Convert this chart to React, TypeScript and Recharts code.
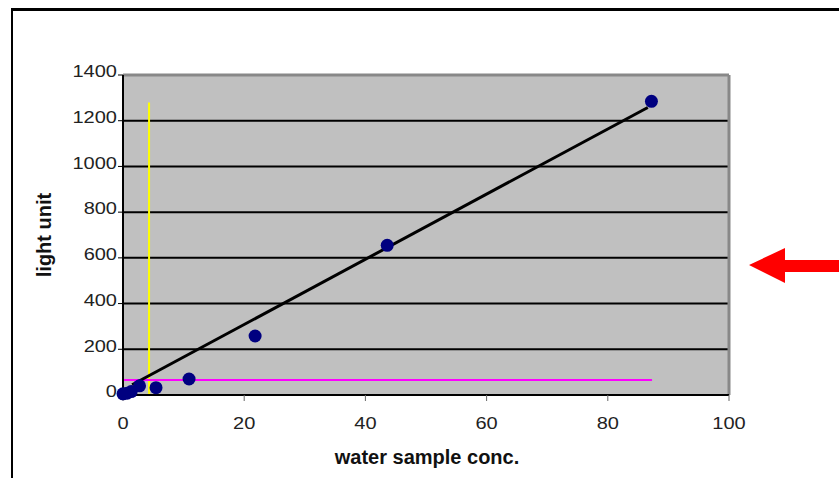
import { ComposedChart, Scatter, XAxis, YAxis, CartesianGrid, ReferenceLine } from 'recharts'

// dilution series: concentration vs measured light units
const concentrations = [0, 0.68, 1.36, 2.73, 5.45, 10.9, 21.8, 43.6, 87.2]
const lightUnits = [5, 8, 15, 40, 32, 70, 258, 655, 1285]

const xTicks = [0, 20, 40, 60, 80, 100]
const yTicks = [0, 200, 400, 600, 800, 1000, 1200, 1400]
const gridValues = [200, 400, 600, 800, 1000, 1200]

// fitted line, detection cutoff (yellow) and blank level (magenta)
const trendX = [1.5, 86.6]
const trendY = [45, 1258]
const cutoffX = [4.3, 4.3]
const cutoffY = [0, 1280]
const blankX = [0, 87.3]
const blankY = [66, 66]

const points = concentrations.map((x, i) => ({ x, y: lightUnits[i] }))
const seg = (xs: number[], ys: number[]) => xs.map((x, i) => ({ x, y: ys[i] }))

const font = '"Liberation Sans", Arial, sans-serif'

// the scanned original has wide, slightly stretched digits
function XTick({ x, y, payload }: any) {
  return (
    <text transform={`translate(${x},${y + 7}) scale(1.25,1)`} textAnchor="middle" dominantBaseline="central"
      fontFamily={font} fontSize={16} fill="#222">
      {payload.value}
    </text>
  )
}

function YTick({ x, y, payload }: any) {
  return (
    <text transform={`translate(${x},${y - 3}) scale(1.25,1)`} textAnchor="end" dominantBaseline="central"
      fontFamily={font} fontSize={16} fill="#222">
      {payload.value}
    </text>
  )
}

function XTitle({ viewBox }: any) {
  return (
    <text x={viewBox.x + viewBox.width / 2 + 1} y={viewBox.y + 69} textAnchor="middle"
      fontFamily={font} fontSize={20} fontWeight="bold" fill="#111">
      water sample conc.
    </text>
  )
}

function YTitle({ viewBox }: any) {
  const cx = 51
  const cy = viewBox.y + viewBox.height / 2
  return (
    <text x={cx} y={cy} textAnchor="middle" transform={`rotate(-90 ${cx} ${cy})`}
      fontFamily={font} fontSize={20} fontWeight="bold" fill="#111">
      light unit
    </text>
  )
}

const Dot = (props: any) => <circle cx={props.cx} cy={props.cy} r={6.5} fill="#000080" />

export default function App() {
  return (
    <div style={{ position: 'absolute', left: 0, top: 0, width: 839, height: 478, overflow: 'hidden', background: '#fff' }}>
      <div style={{ position: 'absolute', left: 11, top: 8, width: 900, height: 600, borderTop: '3px solid #000', borderLeft: '2px solid #000' }} />
      <div style={{ position: 'absolute', left: 0, top: 0 }}>
        <ComposedChart width={839} height={478} data={points} margin={{ top: 75, right: 110, bottom: 23, left: 0 }}>
          <CartesianGrid fill="#c0c0c0" stroke="#000" strokeWidth={2} vertical={false} horizontalValues={gridValues} />
          <XAxis type="number" dataKey="x" domain={[0, 100]} ticks={xTicks} height={60}
            tick={<XTick />} tickSize={6} tickMargin={16}
            axisLine={{ stroke: '#000', strokeWidth: 2 }} tickLine={{ stroke: '#666' }}
            label={<XTitle />} />
          <YAxis type="number" dataKey="y" domain={[0, 1400]} ticks={yTicks} width={123}
            tick={<YTick />} tickSize={5} tickMargin={1}
            axisLine={{ stroke: '#000', strokeWidth: 2 }} tickLine={{ stroke: '#000' }}
            label={<YTitle />} />
          <ReferenceLine y={1400} stroke="#888" strokeWidth={3} />
          <ReferenceLine x={100} stroke="#888" strokeWidth={3} />
          <ReferenceLine segment={seg(cutoffX, cutoffY)} stroke="#ffff00" strokeWidth={2} />
          <ReferenceLine segment={seg(blankX, blankY)} stroke="#ff00ff" strokeWidth={2} />
          <ReferenceLine segment={seg(trendX, trendY)} stroke="#000" strokeWidth={3} />
          <Scatter dataKey="y" shape={<Dot />} isAnimationActive={false} />
        </ComposedChart>
      </div>
      <svg style={{ position: 'absolute', left: 0, top: 0 }} width={839} height={478}>
        <polygon points="749,265 785,248 785,260 839,260 839,272 785,272 785,283" fill="#ff0000" />
      </svg>
    </div>
  )
}
